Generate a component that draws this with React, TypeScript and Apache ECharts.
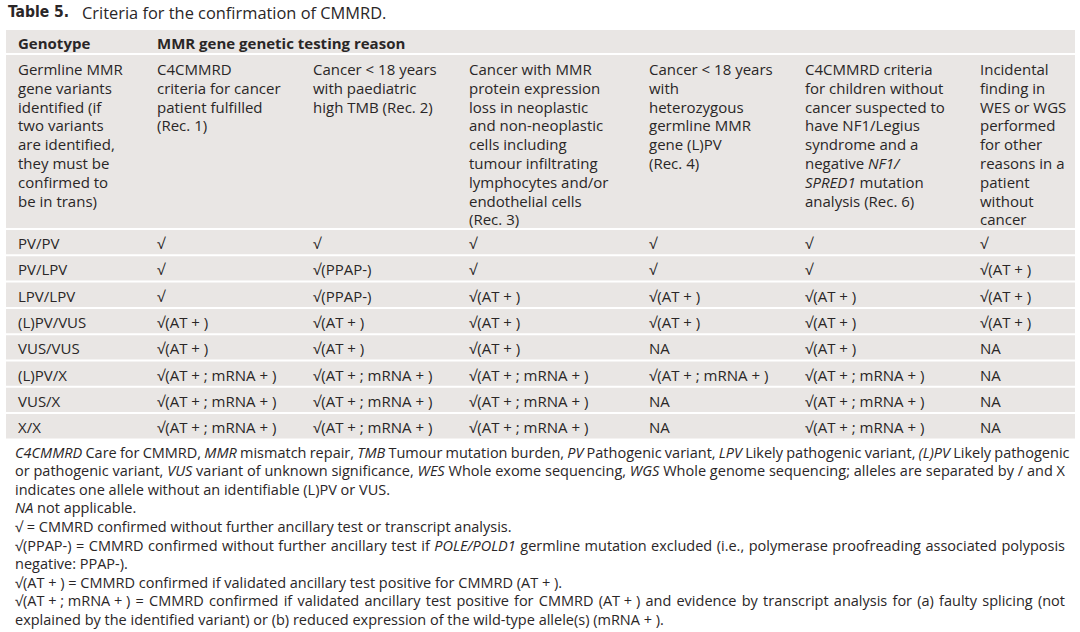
import React, { useEffect, useRef } from "react";
import * as echarts from "echarts";

// ---------- DATA ----------
const titleLabel = "Table 5.";
const titleText = "Criteria for the confirmation of CMMRD.";
const groupHeader = ["Genotype", "MMR gene genetic testing reason"];

const columnHeaders: string[][] = [
  ["Germline MMR", "gene variants", "identified (if", "two variants", "are identified,", "they must be", "confirmed to", "be in trans)"],
  ["C4CMMRD", "criteria for cancer", "patient fulfilled", "(Rec. 1)"],
  ["Cancer < 18 years", "with paediatric", "high TMB (Rec. 2)"],
  ["Cancer with MMR", "protein expression", "loss in neoplastic", "and non-neoplastic", "cells including", "tumour infiltrating", "lymphocytes and/or", "endothelial cells", "(Rec. 3)"],
  ["Cancer < 18 years", "with", "heterozygous", "germline MMR", "gene (L)PV", "(Rec. 4)"],
  ["C4CMMRD criteria", "for children without", "cancer suspected to", "have NF1/Legius", "syndrome and a", "negative {i|NF1/}", "{i|SPRED1} mutation", "analysis (Rec. 6)"],
  ["Incidental", "finding in", "WES or WGS", "performed", "for other", "reasons in a", "patient", "without", "cancer"],
];

const genotypes = ["PV/PV", "PV/LPV", "LPV/LPV", "(L)PV/VUS", "VUS/VUS", "(L)PV/X", "VUS/X", "X/X"];
const rec1 = ["√", "√", "√", "√(AT + )", "√(AT + )", "√(AT + ; mRNA + )", "√(AT + ; mRNA + )", "√(AT + ; mRNA + )"];
const rec2 = ["√", "√(PPAP-)", "√(PPAP-)", "√(AT + )", "√(AT + )", "√(AT + ; mRNA + )", "√(AT + ; mRNA + )", "√(AT + ; mRNA + )"];
const rec3 = ["√", "√", "√(AT + )", "√(AT + )", "√(AT + )", "√(AT + ; mRNA + )", "√(AT + ; mRNA + )", "√(AT + ; mRNA + )"];
const rec4 = ["√", "√", "√(AT + )", "√(AT + )", "NA", "√(AT + ; mRNA + )", "NA", "NA"];
const rec6 = ["√", "√", "√(AT + )", "√(AT + )", "√(AT + )", "√(AT + ; mRNA + )", "√(AT + ; mRNA + )", "√(AT + ; mRNA + )"];
const incidental = ["√", "√(AT + )", "√(AT + )", "√(AT + )", "NA", "NA", "NA", "NA"];

// footnote lines: *word* = italic
const footnoteLines: string[] = [
  "*C4CMMRD* Care for CMMRD, *MMR* mismatch repair, *TMB* Tumour mutation burden, *PV* Pathogenic variant, *LPV* Likely pathogenic variant, *(L)PV* Likely pathogenic",
  "or pathogenic variant, *VUS* variant of unknown significance, *WES* Whole exome sequencing, *WGS* Whole genome sequencing; alleles are separated by / and X",
  "indicates one allele without an identifiable (L)PV or VUS.",
  "*NA* not applicable.",
  "√ = CMMRD confirmed without further ancillary test or transcript analysis.",
  "√(PPAP-) = CMMRD confirmed without further ancillary test if *POLE/POLD1* germline mutation excluded (i.e., polymerase proofreading associated polyposis",
  "negative: PPAP-).",
  "√(AT\u00a0+\u00a0) = CMMRD confirmed if validated ancillary test positive for CMMRD (AT\u00a0+\u00a0).",
  "√(AT\u00a0+\u00a0;\u00a0mRNA\u00a0+\u00a0) = CMMRD confirmed if validated ancillary test positive for CMMRD (AT\u00a0+\u00a0) and evidence by transcript analysis for (a) faulty splicing (not",
  "explained by the identified variant) or (b) reduced expression of the wild-type allele(s) (mRNA\u00a0+\u00a0).",
];
const footnoteJustified = [true, true, false, false, false, true, false, false, true, false];

// ---------- LAYOUT ----------
const FONT = '"Open Sans", "Noto Sans", sans-serif';
const TEXT = "#2a2627";
const BG = "#e9e6e4";
const colX = [18, 157, 313, 469, 649, 805, 980];
const FS = 15;
const FFS = 14.5;

let measureCtx: CanvasRenderingContext2D | null = null;
function measure(t: string, italic: boolean, size: number) {
  if (!measureCtx) measureCtx = document.createElement("canvas").getContext("2d");
  measureCtx!.font = `${italic ? "italic " : ""}normal ${size}px ${FONT}`;
  return measureCtx!.measureText(t).width;
}

function toRich(line: string) {
  return line.replace(/\*([^*]+)\*/g, "{i|$1}");
}

function footLine(line: string, justify: boolean, x: number, y: number, width: number, size: number) {
  const rich = { i: { fontStyle: "italic", fontSize: size, fontFamily: FONT, fill: TEXT } };
  if (!justify) {
    return [{
      type: "text", x, y,
      style: { text: toRich(line), fill: TEXT, fontSize: size, fontFamily: FONT, verticalAlign: "middle", rich },
    }];
  }
  const words = line.split(" ");
  const info = words.map((w) => {
    const it = w.startsWith("*") && w.includes("*", 1);
    return { w, it, width: measure(w.replace(/\*/g, ""), it, size) };
  });
  const total = info.reduce((s, a) => s + a.width, 0);
  const gap = Math.max(size * 0.22, (width - total) / (words.length - 1));
  let cx = x;
  return info.map((a) => {
    const el = {
      type: "text", x: cx, y,
      style: { text: toRich(a.w), fill: TEXT, fontSize: size, fontFamily: FONT, verticalAlign: "middle", rich },
    };
    cx += a.width + gap;
    return el;
  });
}

export default function App() {
  const ref = useRef<HTMLDivElement>(null);
  useEffect(() => {
    if (!ref.current) return;
    const chart = echarts.init(ref.current, null, { renderer: "svg" });
    const g: any[] = [];
    const tableTop = 30, tableBottom = 438.5, tx0 = 6, tx1 = 1075;
    g.push({ type: "rect", shape: { x: tx0, y: tableTop, width: tx1 - tx0, height: tableBottom - tableTop }, style: { fill: BG } });
    // white separators
    const rowStart = 228, pitch = 26.3;
    const seps = [53];
    for (let i = 0; i < genotypes.length; i++) seps.push(rowStart + i * pitch);
    seps.forEach((y) => g.push({ type: "rect", shape: { x: tx0, y, width: tx1 - tx0, height: 2 }, style: { fill: "#ffffff" } }));

    // title
    g.push({ type: "text", x: 8, y: 12, style: { text: titleLabel, fill: TEXT, fontSize: 15.5, fontWeight: "bold", fontFamily: '"Liberation Sans Narrow", "DejaVu Sans Condensed", sans-serif', verticalAlign: "middle" } });
    g.push({ type: "text", x: 82, y: 12, style: { text: titleText, fill: TEXT, fontSize: 16.4, fontFamily: FONT, verticalAlign: "middle" } });

    // group headers
    g.push({ type: "text", x: colX[0], y: 43, style: { text: groupHeader[0], fill: TEXT, fontSize: FS, fontWeight: "bold", fontFamily: FONT, verticalAlign: "middle" } });
    g.push({ type: "text", x: colX[1], y: 43, style: { text: groupHeader[1], fill: TEXT, fontSize: FS, fontWeight: "bold", fontFamily: FONT, verticalAlign: "middle" } });

    // column headers
    const hLine = 18.8, hTop = 69;
    columnHeaders.forEach((lines, c) => {
      lines.forEach((ln, k) => {
        g.push({
          type: "text", x: colX[c], y: hTop + k * hLine,
          style: {
            text: ln, fill: TEXT, fontSize: FS, fontFamily: FONT, verticalAlign: "middle",
            rich: { i: { fontStyle: "italic", fontSize: FS, fontFamily: FONT, fill: TEXT } },
          },
        });
      });
    });

    // body cells
    const cols = [genotypes, rec1, rec2, rec3, rec4, rec6, incidental];
    cols.forEach((col, c) => {
      col.forEach((v, r) => {
        g.push({
          type: "text", x: colX[c], y: rowStart + r * pitch + 15,
          style: { text: v, fill: TEXT, fontSize: FS, fontFamily: FONT, verticalAlign: "middle" },
        });
      });
    });

    // footnotes
    const fTop = 452, fPitch = 18.6;
    footnoteLines.forEach((ln, i) => {
      footLine(ln, footnoteJustified[i], 15, fTop + i * fPitch, 1050, FFS).forEach((e) => g.push(e));
    });

    chart.setOption({ animation: false, graphic: { elements: g } });
    return () => chart.dispose();
  }, []);
  return <div ref={ref} style={{ position: "absolute", left: 0, top: 0, width: 1080, height: 632, background: "#fff" }} />;
}
